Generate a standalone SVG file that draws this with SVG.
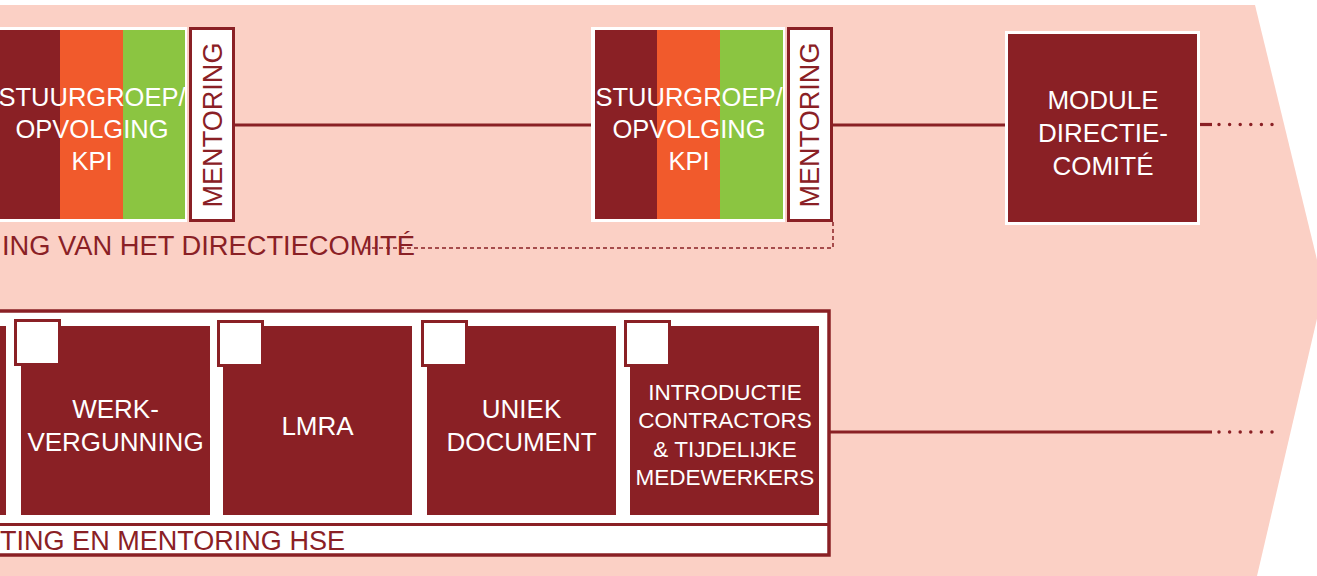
<svg xmlns="http://www.w3.org/2000/svg" width="1317" height="576" viewBox="0 0 1317 576">
<style>
.t{font-family:"Liberation Sans",Arial,sans-serif;}
.w{fill:#ffffff;}
.r{fill:#8A2025;}
.o{fill:#F15A2C;}
.g{fill:#8BC541;}
.wt{fill:#ffffff;font-size:26px;text-anchor:middle;}
.st{font-size:25.5px;}
.rt{fill:#8A2025;font-size:27px;}
.mbox{fill:#ffffff;stroke:#8A2025;stroke-width:3;}
.line{stroke:#8A2025;stroke-width:3.2;fill:none;}
.dots{stroke:#8A2025;stroke-width:3.5;fill:none;stroke-linecap:round;stroke-dasharray:0 10.6;}
.dash{stroke:#8A2025;stroke-width:1.5;fill:none;stroke-dasharray:4 3;}
</style>
<rect x="0" y="0" width="1317" height="576" fill="#ffffff"/>
<polygon points="0,5 1255,5 1320,272 1320,306 1257,576 0,576" fill="#FBD0C5"/>

<g id="connectors">
<line class="line" x1="235" y1="125" x2="591" y2="125"/>
<line class="line" x1="833" y1="125" x2="1005" y2="125"/>
<line class="line" x1="1200" y1="124.5" x2="1212" y2="124.5"/>
<line class="dots" x1="1219" y1="124.5" x2="1275" y2="124.5"/>
<line class="line" x1="830" y1="432" x2="1212" y2="432"/>
<line class="dots" x1="1219" y1="432" x2="1275" y2="432"/>
<polyline class="dash" points="365,248 833,248 833,222"/>
</g>

<g id="node-stuurgroep-1">
<rect class="w" x="-7" y="27" width="194" height="195"/>
<rect class="r" x="-3" y="30" width="63" height="189"/>
<rect class="o" x="60" y="30" width="63" height="189"/>
<rect class="g" x="123" y="30" width="62" height="189"/>
<text class="t wt st" x="92" y="106">STUURGROEP/</text>
<text class="t wt st" x="92" y="138">OPVOLGING</text>
<text class="t wt st" x="92" y="170">KPI</text>
</g>
<g id="node-mentoring-1">
<rect class="mbox" x="190.5" y="28.5" width="43" height="192"/>
<text class="t rt" transform="translate(222,125) rotate(-90)" text-anchor="middle" textLength="165" lengthAdjust="spacingAndGlyphs">MENTORING</text>
</g>

<g id="node-stuurgroep-2">
<rect class="w" x="591" y="27" width="194" height="195"/>
<rect class="r" x="595" y="30" width="62" height="189"/>
<rect class="o" x="657" y="30" width="63" height="189"/>
<rect class="g" x="720" y="30" width="63" height="189"/>
<text class="t wt st" x="689" y="106">STUURGROEP/</text>
<text class="t wt st" x="689" y="138">OPVOLGING</text>
<text class="t wt st" x="689" y="170">KPI</text>
</g>
<g id="node-mentoring-2">
<rect class="mbox" x="788.5" y="28.5" width="43" height="192"/>
<text class="t rt" transform="translate(819,125) rotate(-90)" text-anchor="middle" textLength="165" lengthAdjust="spacingAndGlyphs">MENTORING</text>
</g>

<g id="node-module">
<rect class="w" x="1005" y="31" width="195" height="194"/>
<rect class="r" x="1008" y="34" width="189" height="188"/>
<text class="t wt" x="1103" y="109">MODULE</text>
<text class="t wt" x="1103" y="142">DIRECTIE-</text>
<text class="t wt" x="1103" y="175">COMITÉ</text>
</g>

<g id="label-directiecomite">
<text class="t rt" x="2" y="255" textLength="413" lengthAdjust="spacingAndGlyphs">ING VAN HET DIRECTIECOMITÉ</text>
</g>

<g id="group-hse">
<rect x="-10" y="311" width="839" height="244" fill="#ffffff" stroke="#8A2025" stroke-width="3.5"/>
<line class="line" x1="-10" y1="524.5" x2="829" y2="524.5"/>
<text class="t rt" x="0" y="550" textLength="345" lengthAdjust="spacingAndGlyphs">TING EN MENTORING HSE</text>
</g>

<g id="node-tile-0">
<rect class="r" x="-183" y="326" width="189" height="189"/>
</g>
<g id="node-werkvergunning">
<rect class="r" x="21" y="326" width="189" height="189"/>
<rect class="r" x="14" y="319" width="47" height="47"/>
<rect class="w" x="17" y="322" width="41" height="41"/>
<text class="t wt" x="115.5" y="418">WERK-</text>
<text class="t wt" x="115.5" y="451">VERGUNNING</text>
</g>
<g id="node-lmra">
<rect class="r" x="223" y="326" width="189" height="189"/>
<rect class="r" x="217" y="320" width="47" height="47"/>
<rect class="w" x="220" y="323" width="41" height="41"/>
<text class="t wt" x="317.5" y="435">LMRA</text>
</g>
<g id="node-uniek-document">
<rect class="r" x="427" y="326" width="189" height="189"/>
<rect class="r" x="421" y="320" width="47" height="47"/>
<rect class="w" x="424" y="323" width="41" height="41"/>
<text class="t wt" x="521.5" y="418">UNIEK</text>
<text class="t wt" x="521.5" y="451">DOCUMENT</text>
</g>
<g id="node-introductie">
<rect class="r" x="630" y="326" width="189" height="189"/>
<rect class="r" x="624" y="320" width="47" height="47"/>
<rect class="w" x="627" y="323" width="41" height="41"/>
<text class="t wt" x="725" y="400" style="font-size:22.5px">INTRODUCTIE</text>
<text class="t wt" x="725" y="428" style="font-size:22.5px">CONTRACTORS</text>
<text class="t wt" x="725" y="457" style="font-size:22.5px">&amp; TIJDELIJKE</text>
<text class="t wt" x="725" y="485" style="font-size:22.5px">MEDEWERKERS</text>
</g>
</svg>
